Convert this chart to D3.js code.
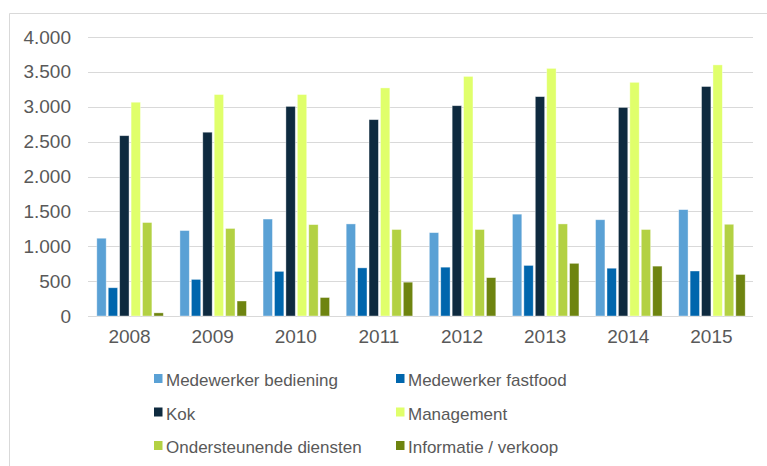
<!DOCTYPE html>
<html>
<head>
<meta charset="utf-8">
<script src="https://cdn.jsdelivr.net/npm/d3@7"></script>
<style>
  body { margin: 0; background: #fff; }
  text { font-family: "Liberation Sans", Arial, sans-serif; fill: #595959; }
</style>
</head>
<body>
<svg></svg>
<script>
const years = ["2008", "2009", "2010", "2011", "2012", "2013", "2014", "2015"]
const seriesNames = ["Medewerker bediening", "Medewerker fastfood", "Kok", "Management", "Ondersteunende diensten", "Informatie / verkoop"]
const bediening = [1115, 1225, 1390, 1320, 1195, 1460, 1380, 1525]
const fastfood = [405, 525, 640, 690, 700, 725, 685, 645]
const kok = [2585, 2635, 3005, 2815, 3015, 3145, 2990, 3290]
const management = [3065, 3175, 3175, 3270, 3435, 3550, 3350, 3600]
const ondersteunend = [1340, 1255, 1310, 1240, 1240, 1320, 1240, 1315]
const informatie = [45, 215, 265, 485, 550, 755, 715, 595]
const yTicks = [0, 500, 1000, 1500, 2000, 2500, 3000, 3500, 4000]
const colors = ["#5aa1d5", "#0066ad", "#0e2a3f", "#e0ff6b", "#b3d143", "#6e8410"]

const allSeries = [bediening, fastfood, kok, management, ondersteunend, informatie]

let svgWidth = 767, svgHeight = 466
let plotLeft = 88, plotRight = 753, plotTop = 37, plotBottom = 316

let svg = d3.select('svg')
    .attr('width', svgWidth)
    .attr('height', svgHeight)

// outer frame
svg.append('path')
    .attr('d', 'M9.5,' + svgHeight + 'V13.5H' + svgWidth)
    .attr('fill', 'none')
    .attr('stroke', '#d9d9d9')
    .attr('stroke-width', 1)

let x = d3.scaleBand().domain(years).range([plotLeft, plotRight]).paddingInner(0.2).paddingOuter(0.1)
let xInner = d3.scaleBand().domain(d3.range(seriesNames.length)).range([0, x.bandwidth()]).paddingInner(0.18)
let y = d3.scaleLinear().domain([0, 4000]).range([plotBottom, plotTop])

let fmt = d3.formatLocale({ decimal: ",", thousands: ".", grouping: [3], currency: ["", ""] }).format(",")

// gridlines
svg.append('g')
    .selectAll('line')
    .data(yTicks)
    .enter()
    .append('line')
    .attr('x1', plotLeft)
    .attr('x2', plotRight)
    .attr('y1', d => Math.round(y(d)) + 0.5)
    .attr('y2', d => Math.round(y(d)) + 0.5)
    .attr('stroke', '#d9d9d9')
    .attr('stroke-width', 1)

let yAxis = svg.append('g')
    .attr('transform', 'translate(' + (plotLeft - 12) + ',0)')
    .call(d3.axisLeft(y).tickValues(yTicks).tickFormat(fmt).tickSize(0).tickPadding(5))
yAxis.select('.domain').remove()
yAxis.selectAll('text').attr('font-size', 19).attr('fill', '#595959')

let xAxis = svg.append('g')
    .attr('transform', 'translate(0,' + plotBottom + ')')
    .call(d3.axisBottom(x).tickSize(0).tickPadding(14))
xAxis.select('.domain').remove()
xAxis.selectAll('text').attr('font-size', 19).attr('fill', '#595959')

// bars
let groups = svg.selectAll('g.year')
    .data(years)
    .enter()
    .append('g')
    .attr('class', 'year')
    .attr('transform', d => 'translate(' + x(d) + ',0)')

groups.selectAll('rect')
    .data((d, i) => allSeries.map((s, j) => ({ k: j, v: s[i] })))
    .enter()
    .append('rect')
    .attr('x', d => xInner(d.k) + 0.5)
    .attr('y', d => y(d.v))
    .attr('width', xInner.bandwidth())
    .attr('height', d => plotBottom - y(d.v))
    .attr('fill', d => colors[d.k])
    .attr('stroke', '#ffffff')
    .attr('stroke-opacity', 0.5)
    .attr('stroke-width', 0.75)

// legend
let legend = svg.selectAll('g.legend')
    .data(seriesNames)
    .enter()
    .append('g')
    .attr('class', 'legend')
    .attr('transform', (d, i) => 'translate(' + (i % 2 == 0 ? 154 : 396) + ',' + (378 + Math.floor(i / 2) * 33.5) + ')')

legend.append('rect')
    .attr('x', 0)
    .attr('y', -4)
    .attr('width', 8.5)
    .attr('height', 9)
    .attr('fill', (d, i) => colors[i])

legend.append('text')
    .attr('x', 12)
    .attr('y', 8)
    .attr('font-size', 17)
    .text(d => d)
</script>
</body>
</html>
